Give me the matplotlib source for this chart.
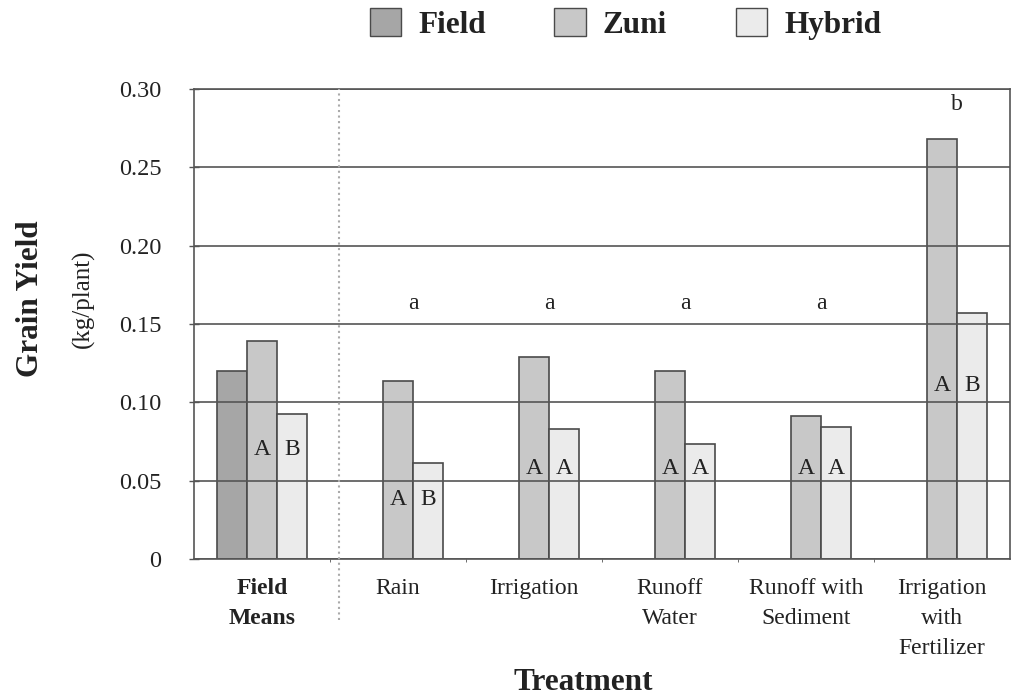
import matplotlib
matplotlib.use('Agg')
import matplotlib.pyplot as plt
from matplotlib.patches import Patch
import numpy as np

plt.rcParams['font.family'] = ['Liberation Serif', 'DejaVu Serif']

categories = ['Field\nMeans', 'Rain', 'Irrigation', 'Runoff\nWater',
              'Runoff with\nSediment', 'Irrigation\nwith\nFertilizer']
field = [0.120, None, None, None, None, None]
zuni = [0.139, 0.1135, 0.129, 0.120, 0.091, 0.268]
hybrid = [0.0925, 0.061, 0.083, 0.0735, 0.0845, 0.157]
# letters inside bars (Zuni, Hybrid) and their heights
inner_letters = [('A', 'B'), ('A', 'B'), ('A', 'A'), ('A', 'A'), ('A', 'A'), ('A', 'B')]
inner_y = [0.070, 0.038, 0.058, 0.058, 0.058, 0.111]
# letters above groups
top_letters = [None, 'a', 'a', 'a', 'a', 'b']
top_y = [None, 0.163, 0.163, 0.163, 0.163, 0.290]
yticks = [0, 0.05, 0.10, 0.15, 0.20, 0.25, 0.30]
ytick_labels = ['0', '0.05', '0.10', '0.15', '0.20', '0.25', '0.30']

c_field = '#a6a6a6'
c_zuni = '#c8c8c8'
c_hybrid = '#ebebeb'
edge = '#4a4a4a'

fig = plt.figure(figsize=(10.12, 6.96), dpi=100)
ax = fig.add_axes([0.1917, 0.1968, 0.8063, 0.6753])

x = np.arange(len(categories))
w = 0.22
fx = [i for i in x if field[i] is not None]
fv = [v for v in field if v is not None]
ax.bar(np.array(fx) - w, fv, w, color=c_field, edgecolor=edge, linewidth=1.2, zorder=1)
ax.bar(x, zuni, w, color=c_zuni, edgecolor=edge, linewidth=1.2, zorder=1)
ax.bar(x + w, hybrid, w, color=c_hybrid, edgecolor=edge, linewidth=1.2, zorder=1)

for i in x:
    ax.text(i, inner_y[i], inner_letters[i][0], ha='center', va='center', fontsize=17, color='#222', zorder=4)
    ax.text(i + w, inner_y[i], inner_letters[i][1], ha='center', va='center', fontsize=17, color='#222', zorder=4)
    if top_letters[i]:
        ax.text(i + w / 2, top_y[i], top_letters[i], ha='center', va='center', fontsize=17, color='#222', zorder=4)

ax.set_xlim(-0.5, 5.5)
ax.set_ylim(0, 0.30)
ax.set_yticks(yticks)
ax.set_yticklabels(ytick_labels, fontsize=17.5, color='#222')
ax.yaxis.grid(True, color='#555', linewidth=1.2)
ax.set_axisbelow(False)
ax.tick_params(axis='y', direction='inout', length=7, width=1, color='#555', pad=20)

ax.set_xticks(x)
ax.set_xticklabels(categories, fontsize=17, color='#222', linespacing=1.55)
ax.get_xticklabels()[0].set_fontweight('bold')
ax.tick_params(axis='x', which='major', length=0, pad=14)
ax.set_xticks(np.arange(0.5, 5.5, 1), minor=True)
ax.tick_params(axis='x', which='minor', length=2, color='#555', direction='out')

for s in ax.spines.values():
    s.set_color('#555')
    s.set_linewidth(1.2)

# dotted separator between field means and treatments
ax.axvline(0.565, ymin=-0.13, ymax=1, color='#aaaaaa', linestyle=':', linewidth=1.5, clip_on=False, zorder=3)

fig.text(0.030, 0.571, 'Grain Yield', rotation=90, ha='center', va='center', fontsize=22.5, fontweight='bold', color='#222')
fig.text(0.082, 0.571, '(kg/plant)', rotation=90, ha='center', va='center', fontsize=18, color='#222')
fig.text(0.576, 0.020, 'Treatment', ha='center', va='center', fontsize=22.5, fontweight='bold', color='#222')

handles = [Patch(facecolor=c_field, edgecolor=edge), Patch(facecolor=c_zuni, edgecolor=edge),
           Patch(facecolor=c_hybrid, edgecolor=edge)]
leg = fig.legend(handles, ['Field', 'Zuni', 'Hybrid'], loc='center', bbox_to_anchor=(0.618, 0.966), ncol=3,
                 frameon=False, prop={'size': 22.5, 'weight': 'bold'}, handlelength=1.0, handleheight=1.0,
                 handletextpad=0.55, columnspacing=2.2)
for t in leg.get_texts():
    t.set_color('#222')

plt.savefig('out.png', dpi=100)
